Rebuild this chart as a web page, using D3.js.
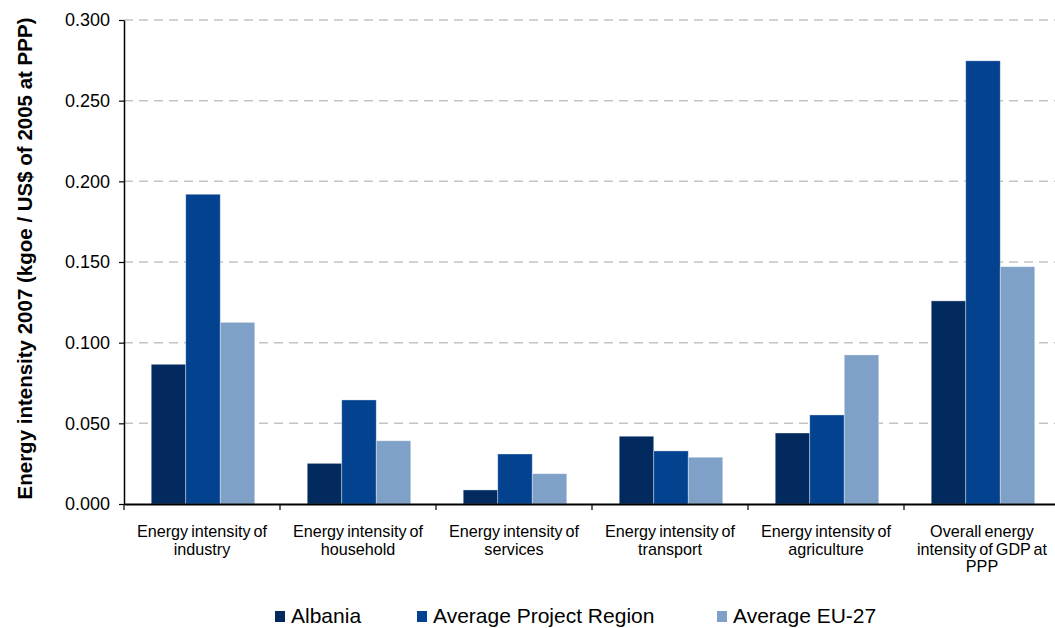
<!DOCTYPE html>
<html>
<head>
<meta charset="utf-8">
<script src="https://cdn.jsdelivr.net/npm/d3@7"></script>
<style>
  html, body { margin: 0; padding: 0; background: #ffffff; }
  svg { display: block; font-family: "Liberation Sans", Arial, sans-serif; }
</style>
</head>
<body>
<svg id="chart" width="1055" height="628"></svg>
<script>
const categories = [
  "Energy intensity of industry",
  "Energy intensity of household",
  "Energy intensity of services",
  "Energy intensity of transport",
  "Energy intensity of agriculture",
  "Overall energy intensity of GDP at PPP"
];
const seriesNames = ["Albania", "Average Project Region", "Average EU-27"];
const albania = [0.0866, 0.0252, 0.0087, 0.0420, 0.0440, 0.1259];
const projectRegion = [0.1920, 0.0645, 0.0310, 0.0329, 0.0552, 0.2747];
const eu27 = [0.1126, 0.0392, 0.0188, 0.0290, 0.0924, 0.1471];
const yTicks = [0, 0.05, 0.10, 0.15, 0.20, 0.25, 0.30];
const yTitle = "Energy intensity 2007 (kgoe / US$ of 2005 at PPP)";
const colors = ["#032a5f", "#03428f", "#7fa1c7"];

(function () {
const seriesValues = [albania, projectRegion, eu27];
const svg = d3.select("#chart");

const mLeft = 124, mRight = 1060, mTop = 20, mBottom = 504;

const y = d3.scaleLinear().domain([0, 0.3]).range([mBottom, mTop]);
const x0 = d3.scaleBand().domain(categories).range([mLeft, mRight]).padding(0);
const x1 = d3.scaleBand().domain(seriesNames).range([0, x0.bandwidth()])
  .paddingInner(0).paddingOuter(0.76);
const color = d3.scaleOrdinal().domain(seriesNames).range(colors);

// gridlines
svg.append("g").selectAll("line")
  .data(yTicks.filter(d => d > 0))
  .join("line")
  .attr("x1", mLeft).attr("x2", mRight)
  .attr("y1", d => y(d)).attr("y2", d => y(d))
  .attr("stroke", "#c3c3c3")
  .attr("stroke-width", 1.5)
  .attr("stroke-dasharray", "9,6");

// bars
const rows = categories.map((c, i) => ({
  cat: c,
  vals: seriesNames.map((s, j) => ({ s, v: seriesValues[j][i] }))
}));
svg.append("g").selectAll("g")
  .data(rows)
  .join("g")
  .attr("transform", d => `translate(${x0(d.cat) + 1},0)`)
  .selectAll("rect")
  .data(d => d.vals)
  .join("rect")
  .attr("x", d => x1(d.s))
  .attr("width", x1.bandwidth())
  .attr("y", d => y(d.v))
  .attr("height", d => y(0) - y(d.v))
  .attr("fill", d => color(d.s))
  .attr("stroke", "#ffffff")
  .attr("stroke-opacity", 0.45)
  .attr("stroke-width", 0.8);

// y axis
const yAxis = d3.axisLeft(y).tickValues(yTicks).tickFormat(d3.format(".3f"))
  .tickSize(5).tickSizeOuter(0).tickPadding(9);
const gy = svg.append("g").attr("transform", `translate(${mLeft},0)`).call(yAxis);
gy.select(".domain").attr("stroke", "#000").attr("stroke-width", 1.5);
gy.selectAll(".tick line").attr("stroke", "#000").attr("stroke-width", 1.2);
gy.selectAll(".tick text").attr("font-size", "18px").attr("fill", "#000")
  .attr("font-family", "Liberation Sans, Arial, sans-serif");

// x axis
const xAxis = d3.axisBottom(x0).tickSize(0).tickFormat("");
const gx = svg.append("g").attr("transform", `translate(0,${mBottom})`).call(xAxis);
gx.select(".domain").attr("stroke", "#000").attr("stroke-width", 2);
gx.selectAll(".tick").remove();
const bounds = categories.map(c => x0(c)).concat([x0(categories[categories.length - 1]) + x0.bandwidth()]);
gx.selectAll("line.bt").data(bounds).join("line").attr("class", "bt")
  .attr("x1", d => d).attr("x2", d => d).attr("y1", 0).attr("y2", 6)
  .attr("stroke", "#000").attr("stroke-width", 1.2);

// category labels with wrapping
const labelG = svg.append("g");
categories.forEach(c => {
  const cx = x0(c) + x0.bandwidth() / 2;
  const t = labelG.append("text")
    .attr("x", cx).attr("y", mBottom + 33)
    .attr("text-anchor", "middle")
    .attr("font-size", "16.2px")
    .attr("word-spacing", "-1.5px")
    .attr("fill", "#000");
  const words = c.split(" ");
  let line = [];
  let tspan = t.append("tspan").attr("x", cx).attr("dy", 0);
  words.forEach(w => {
    line.push(w);
    tspan.text(line.join(" "));
    if (tspan.node().getComputedTextLength() > 148 && line.length > 1) {
      line.pop();
      tspan.text(line.join(" "));
      line = [w];
      tspan = t.append("tspan").attr("x", cx).attr("dy", "17.5px").text(w);
    }
  });
});

// y title
svg.append("text")
  .attr("transform", `translate(32,258.5) rotate(-90)`)
  .attr("text-anchor", "middle")
  .attr("font-size", "20.5px")
  .attr("font-weight", "bold")
  .attr("fill", "#000")
  .text(yTitle);

// legend
const legendX = [275, 417, 717];
const lg = svg.append("g");
seriesNames.forEach((s, i) => {
  lg.append("rect").attr("x", legendX[i]).attr("y", 611)
    .attr("width", 10).attr("height", 11).attr("fill", color(s));
  lg.append("text").attr("x", legendX[i] + 16).attr("y", 623)
    .attr("font-size", "21px").attr("fill", "#000").text(s);
});
})();
</script>
</body>
</html>
